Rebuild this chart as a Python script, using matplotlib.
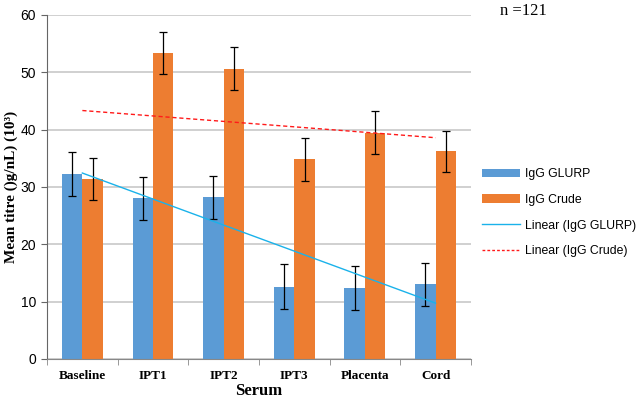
import numpy as np
import matplotlib
matplotlib.use("Agg")
import matplotlib.pyplot as plt
from matplotlib.patches import Patch
from matplotlib.lines import Line2D

# ──────────────────────────────────────────────
# Data
# ──────────────────────────────────────────────
categories = ["Baseline", "IPT1", "IPT2", "IPT3", "Placenta", "Cord"]
glurp = [32.3, 28.0, 28.2, 12.6, 12.4, 13.0]
glurp_err = [3.85, 3.8, 3.75, 3.9, 3.9, 3.8]
crude = [31.4, 53.3, 50.6, 34.8, 39.5, 36.2]
crude_err = [3.7, 3.65, 3.75, 3.7, 3.8, 3.65]
y_ticks = [0, 10, 20, 30, 40, 50, 60]

BLUE = "#5b9bd5"
ORANGE = "#ed7d31"
TREND_BLUE = "#1ab2ea"
TREND_RED = "#ff1a1a"

fig = plt.figure(figsize=(6.38, 4.03), dpi=100)
ax = fig.add_axes([0.0737, 0.1092, 0.6645, 0.8536])

x = np.arange(len(categories))
w = 0.29
ax.bar(x - w / 2, glurp, w, color=BLUE, zorder=2)
ax.bar(x + w / 2, crude, w, color=ORANGE, zorder=2)
ax.errorbar(x - w / 2, glurp, yerr=glurp_err, fmt="none", ecolor="black",
            elinewidth=0.9, capsize=3, capthick=0.9, zorder=3)
ax.errorbar(x + w / 2, crude, yerr=crude_err, fmt="none", ecolor="black",
            elinewidth=0.9, capsize=3, capthick=0.9, zorder=3)

# linear trendlines (Excel style, from first to last category centre)
for vals, color, ls in [(glurp, TREND_BLUE, "-"), (crude, TREND_RED, (0, (3, 2)))]:
    k, b = np.polyfit(x + 1, vals, 1)
    ax.plot(x, k * (x + 1) + b, color=color, linestyle=ls, linewidth=1, zorder=4)

ax.set_xlim(-0.5, len(categories) - 0.5)
ax.set_ylim(0, 60)
ax.set_yticks(y_ticks)
ax.yaxis.grid(True, color="#c4c4c4", linewidth=1.1)
ax.set_axisbelow(True)

ax.set_xticks(x)
ax.set_xticklabels(categories, fontfamily="Liberation Serif", fontweight="bold",
                   fontsize=9.5)
ax.tick_params(axis="x", length=0, pad=8)
ax.set_xticks(np.arange(len(categories) + 1) - 0.5, minor=True)
ax.tick_params(axis="x", which="minor", length=4, color="#888888")
ax.tick_params(axis="y", length=4, color="#666666", labelsize=10, pad=4)
for lab in ax.get_yticklabels():
    lab.set_fontfamily("Liberation Sans")

for s in ["top", "right"]:
    ax.spines[s].set_visible(False)
ax.spines["left"].set_color("#666666")
ax.spines["bottom"].set_color("#888888")

ax.set_xlabel("Serum", fontfamily="Liberation Serif", fontweight="bold",
              fontsize=12, labelpad=1)
ax.set_ylabel("Mean titre ()g/nL) (10³)", fontfamily="Liberation Serif",
              fontweight="bold", fontsize=11)
ax.yaxis.set_label_coords(-0.068, 0.5)

fig.text(0.784, 0.972, "n =121", fontfamily="Liberation Serif", fontsize=12,
         va="center", ha="left")

handles = [
    Patch(facecolor=BLUE, edgecolor="none"),
    Patch(facecolor=ORANGE, edgecolor="none"),
    Line2D([], [], color=TREND_BLUE, linewidth=1),
    Line2D([], [], color=TREND_RED, linewidth=1, linestyle=(0, (2, 1.5))),
]
labels = ["IgG GLURP", "IgG Crude", "Linear (IgG GLURP)", "Linear (IgG Crude)"]
fig.legend(handles, labels, loc="upper left", bbox_to_anchor=(0.739, 0.61),
           frameon=False, handlelength=3.1, handleheight=0.65,
           labelspacing=1.12, handletextpad=0.4,
           prop={"family": "Liberation Sans", "size": 8.8})

fig.savefig("out.png", dpi=100)
